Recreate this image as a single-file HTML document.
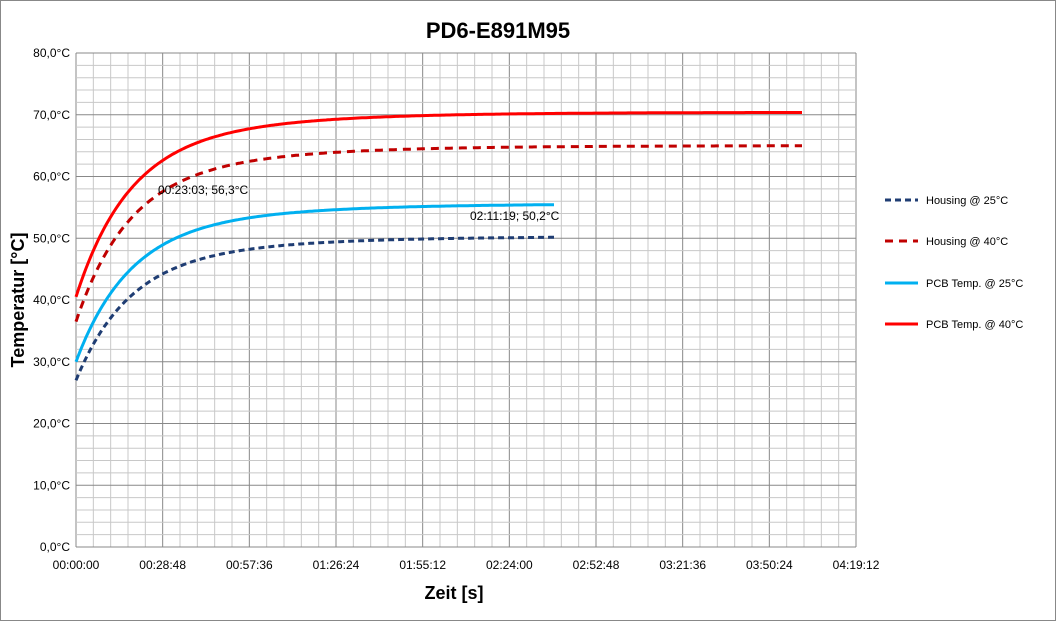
<!DOCTYPE html><html><head><style>body{margin:0;background:#fff}svg{display:block;font-family:"Liberation Sans",sans-serif}</style></head><body>
<svg id="s" width="1056" height="621" xmlns="http://www.w3.org/2000/svg">
<rect x="0.5" y="0.5" width="1055" height="620" fill="#fff" stroke="#888"/>
<g id="grid"></g>
<text x="498" y="38" text-anchor="middle" font-size="22" font-weight="bold">PD6-E891M95</text>
<text x="454" y="599" text-anchor="middle" font-size="18" font-weight="bold">Zeit [s]</text>
<text transform="translate(24,300) rotate(-90)" text-anchor="middle" font-size="18" font-weight="bold">Temperatur [°C]</text>
<g id="lines"></g>
<text x="158" y="194" font-size="12">00:23:03; 56,3°C</text>
<text x="470" y="220" font-size="12">02:11:19; 50,2°C</text>
<g font-size="11">
<line x1="885" y1="200" x2="918" y2="200" stroke="#1f3d73" stroke-width="3" stroke-dasharray="6,4"/><text x="926" y="204">Housing @ 25°C</text>
<line x1="885" y1="241" x2="918" y2="241" stroke="#c00000" stroke-width="3" stroke-dasharray="8,6"/><text x="926" y="245">Housing @ 40°C</text>
<line x1="885" y1="283" x2="918" y2="283" stroke="#00b0f0" stroke-width="3"/><text x="926" y="287">PCB Temp. @ 25°C</text>
<line x1="885" y1="324" x2="918" y2="324" stroke="#ff0000" stroke-width="3"/><text x="926" y="328">PCB Temp. @ 40°C</text>
</g>
</svg>
<script>
var ns="http://www.w3.org/2000/svg",g=document.getElementById('grid'),L=document.getElementById('lines');
function el(p,t,a,txt){var e=document.createElementNS(ns,t);for(var k in a)e.setAttribute(k,a[k]);if(txt)e.textContent=txt;p.appendChild(e);return e;}
var x0=76,x1=856,y0=53,y1=547;
for(var i=0;i<=45;i++){var x=x0+i*(x1-x0)/45;el(g,'line',{x1:x,y1:y0,x2:x,y2:y1,stroke:i%5?'#c8c8c8':'#888','stroke-width':1});}
for(var i=0;i<=40;i++){var y=y0+i*(y1-y0)/40;el(g,'line',{x1:x0,y1:y,x2:x1,y2:y,stroke:i%5?'#c8c8c8':'#888','stroke-width':1});}
var tl=['00:00:00','00:28:48','00:57:36','01:26:24','01:55:12','02:24:00','02:52:48','03:21:36','03:50:24','04:19:12'];
for(var i=0;i<10;i++)el(g,'text',{x:x0+i*86.67,y:569,'text-anchor':'middle','font-size':12},tl[i]);
for(var v=0;v<=80;v+=10)el(g,'text',{x:70,y:y1-v*6.175+4,'text-anchor':'end','font-size':12},v+',0°C');
function curve(a,b,end,tau,col,dash){var d='';for(var x=x0;x<=end;x+=2){var v=b-(b-a)*(0.75*Math.exp(-(x-x0)/tau)+0.25*Math.exp(-(x-x0)/(tau*2.6)));d+=(d?'L':'M')+x+','+(y1-v*6.175).toFixed(1);}
var a2={d:d,fill:'none',stroke:col,'stroke-width':3};if(dash)a2['stroke-dasharray']=dash;el(L,'path',a2);}
curve(27,50.3,555,50,'#1f3d73','6,4');
curve(36.5,65,803,50,'#c00000','8,6');
curve(30,55.6,555,50,'#00b0f0');
curve(40.5,70.4,803,50,'#ff0000');
</script>
</body></html>
